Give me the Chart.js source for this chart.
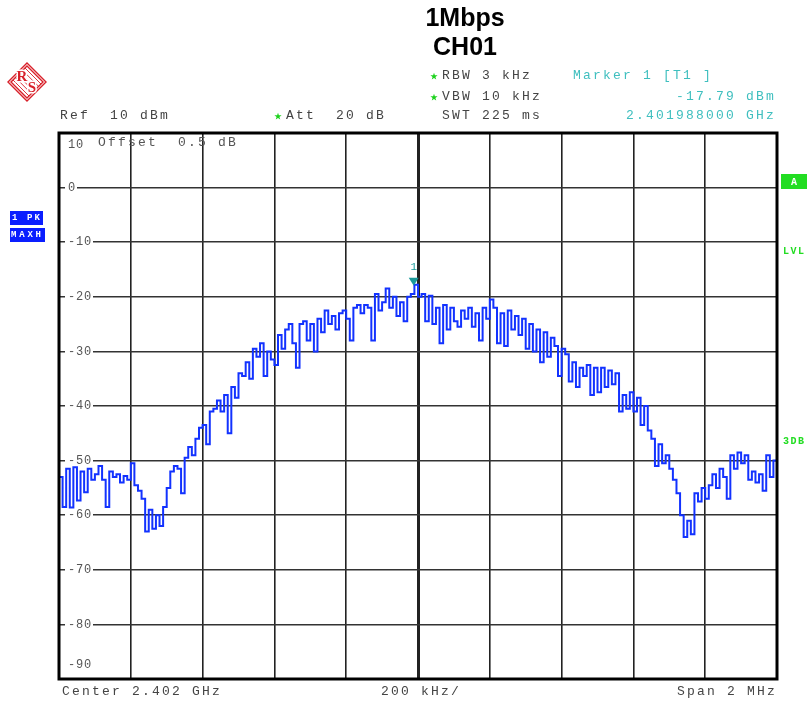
<!DOCTYPE html>
<html>
<head>
<meta charset="utf-8">
<script src="https://cdn.jsdelivr.net/npm/chart.js@4.4.1/dist/chart.umd.min.js"></script>
<style>
  body { margin: 0; background: #fff; }
  #wrap { width: 807px; height: 704px; }
</style>
</head>
<body>
<div id="wrap"><canvas id="myChart" width="807" height="704"></canvas></div>
<script>
// sweep: 2.401 .. 2.403 GHz, offsets in kHz from centre
const sweepStartKHz = -1000;
const sweepStepKHz = 10;
const levelDbm = [
  -53, -58.5, -51.5, -58.6, -51.2, -57.3, -52, -55.8, -51.5, -53.5, -52.5,
  -51, -53.5, -58.5, -52, -53, -52.5, -54, -52.8, -53.5, -50.5,
  -54.5, -55.5, -57, -63, -59, -62.5, -60, -62, -58.5, -55,
  -52, -51, -51.5, -56, -49.5, -47.5, -49, -46, -44, -43.5,
  -47, -41, -40.5, -39, -41, -38, -45, -36.5, -38.5, -34,
  -34.5, -32, -35, -29.5, -31, -28.5, -34.5, -30, -31.5, -32.5,
  -27, -29.5, -26, -25, -28.5, -33, -25, -24.5, -28, -25,
  -30, -24, -26.5, -22.5, -25, -23.5, -26, -23, -22.5, -24,
  -28, -22, -21.5, -23, -21.5, -22, -28, -19.5, -22.5, -21,
  -18.5, -22, -20, -23.5, -21, -24.5, -20, -19.5, -17.8, -20,
  -19.5, -24.5, -19.8, -25, -22, -28.5, -21.5, -26, -22, -24.5,
  -25.5, -22.5, -24, -22, -25.5, -23, -28, -22, -24, -20.5,
  -22, -28.5, -23, -29, -22.5, -26, -23.5, -27, -24, -29.5,
  -25, -30, -26, -32, -26.5, -31, -27.5, -29, -34.5, -29.5,
  -30.5, -35.5, -32, -36.5, -33, -34.5, -32.5, -38, -33, -37.5,
  -33, -36.5, -33.5, -36, -34, -41, -38, -40.5, -37.5, -41,
  -38.5, -43.5, -40, -44.5, -46, -51, -47, -50.5, -49, -51.5,
  -53.5, -56, -60, -64, -61, -63.5, -56, -57.5, -55, -57,
  -54.5, -52.5, -55, -51.5, -53, -57, -49, -51.5, -48.5, -50.5,
  -49, -53.5, -52, -54, -52.5, -55.5, -49, -53, -50, -54
];
const yTicks = [10, 0, -10, -20, -30, -40, -50, -60, -70, -80, -90];
const markerKHz = -12;
const markerDbm = -17.79;

const headerLeft = [
  ['Ref  10 dBm', 60, 116, false],
  ['Att  20 dB', 286, 116, true]
];
const headerMid = [
  ['RBW 3 kHz', 442, 76, true],
  ['VBW 10 kHz', 442, 97, true],
  ['SWT 225 ms', 442, 116, false]
];
const markerText = ['Marker 1 [T1 ]', '-17.79 dBm', '2.401988000 GHz'];
const footer = ['Center 2.402 GHz', '200 kHz/', 'Span 2 MHz'];

const points = levelDbm.map((v, i) => ({ x: sweepStartKHz + i * sweepStepKHz, y: v }));

const MONO = 'Liberation Mono, DejaVu Sans Mono, monospace';

// draws text char by char on a fixed pitch, like the analyser font
function monoText(ctx, str, x, y, pitch) {
  for (let i = 0; i < str.length; i++) {
    ctx.fillText(str[i], x + i * pitch, y);
  }
}
// little green star in front of manually set values
function star(ctx, x, y) {
  ctx.save();
  ctx.fillStyle = '#1ed21e';
  ctx.beginPath();
  for (let k = 0; k < 10; k++) {
    const r = k % 2 ? 1.5 : 3.8;
    const a = -Math.PI / 2 + k * Math.PI / 5;
    ctx.lineTo(x + r * Math.cos(a), y + 0.5 + r * Math.sin(a));
  }
  ctx.closePath();
  ctx.fill();
  ctx.restore();
}

const overlay = {
  id: 'overlay',
  beforeDatasetsDraw(chart) {
    const ctx = chart.ctx;
    const ys = chart.scales.y;
    const left = chart.chartArea.left;
    ctx.save();
    ctx.font = '12px ' + MONO;
    ctx.textBaseline = 'middle';
    yTicks.forEach(v => {
      let py = ys.getPixelForValue(v);
      const txt = String(v);
      const w = txt.length * 8;
      if (v === 10) py += 12;
      else if (v === -90) py -= 14;
      else {
        ctx.fillStyle = '#fff';
        ctx.fillRect(left + 6, py - 5, w + 4, 10);
      }
      ctx.fillStyle = '#555';
      monoText(ctx, txt, left + 9, py, 8);
    });
    ctx.fillStyle = '#555';
    ctx.font = '13px ' + MONO;
    monoText(ctx, 'Offset  0.5 dB', 98, 143, 10);
    ctx.restore();
  },
  afterDraw(chart) {
    const ctx = chart.ctx;
    const a = chart.chartArea;
    const xs = chart.scales.x, ys = chart.scales.y;
    ctx.save();
    // frame
    ctx.strokeStyle = '#000';
    ctx.lineWidth = 3;
    ctx.strokeRect(a.left, a.top, a.right - a.left, a.bottom - a.top);

    // marker 1
    const mx = xs.getPixelForValue(markerKHz);
    const my = ys.getPixelForValue(markerDbm);
    ctx.fillStyle = '#1a9a9a';
    ctx.beginPath();
    ctx.moveTo(mx - 5, my - 7);
    ctx.lineTo(mx + 5, my - 7);
    ctx.lineTo(mx, my + 1);
    ctx.closePath();
    ctx.fill();
    ctx.font = '11px ' + MONO;
    ctx.textAlign = 'center';
    ctx.textBaseline = 'middle';
    ctx.fillText('1', mx, my - 18);

    // title
    ctx.fillStyle = '#000';
    ctx.font = 'bold 25px Liberation Sans, Arial, sans-serif';
    ctx.fillText('1Mbps', 465, 19);
    ctx.fillText('CH01', 465, 48);

    // header fields
    ctx.textAlign = 'left';
    headerLeft.concat(headerMid).forEach(h => {
      if (h[3]) star(ctx, h[1] - 8, h[2]);
      ctx.fillStyle = '#444';
      ctx.font = '13px ' + MONO;
      monoText(ctx, h[0], h[1], h[2], 10);
    });
    ctx.fillStyle = '#3fbfbf';
    monoText(ctx, markerText[0], 573, 76, 10);
    monoText(ctx, markerText[1], 774 - markerText[1].length * 10 + 2, 97, 10);
    monoText(ctx, markerText[2], 774 - markerText[2].length * 10 + 2, 116, 10);

    // footer
    ctx.fillStyle = '#444';
    monoText(ctx, footer[0], 62, 692, 10);
    monoText(ctx, footer[1], 381, 692, 10);
    monoText(ctx, footer[2], 677, 692, 10);

    // left trace badges
    ctx.fillStyle = '#0a1eff';
    ctx.fillRect(10, 211, 33, 14);
    ctx.fillRect(10, 228, 35, 14);
    ctx.fillStyle = '#fff';
    ctx.font = 'bold 9px ' + MONO;
    monoText(ctx, '1 PK', 12, 218, 7.5);
    monoText(ctx, 'MAXH', 11, 235, 8.2);

    // right side flags
    ctx.fillStyle = '#22dd22';
    ctx.fillRect(781, 174, 26, 15);
    ctx.fillStyle = '#fff';
    ctx.font = 'bold 10px ' + MONO;
    ctx.fillText('A', 791, 182);
    ctx.fillStyle = '#22dd22';
    monoText(ctx, 'LVL', 783, 251, 7.5);
    monoText(ctx, '3DB', 783, 441, 7.5);

    // R&S logo
    ctx.translate(27, 82);
    ctx.strokeStyle = '#d8202a';
    ctx.lineWidth = 1.4;
    ctx.beginPath();
    ctx.moveTo(0, -19); ctx.lineTo(19, 0); ctx.lineTo(0, 19); ctx.lineTo(-19, 0); ctx.closePath();
    ctx.stroke();
    ctx.beginPath();
    ctx.moveTo(0, -16); ctx.lineTo(16, 0); ctx.lineTo(0, 16); ctx.lineTo(-16, 0); ctx.closePath();
    ctx.stroke();
    ctx.lineWidth = 0.9;
    for (let k = -6; k <= 6; k += 2.4) {
      ctx.beginPath();
      ctx.moveTo(-8 + k, -8 - k);
      ctx.lineTo(8 + k, 8 - k);
      ctx.stroke();
    }
    ctx.font = 'bold 15px Liberation Serif, serif';
    ctx.textAlign = 'center';
    ctx.lineWidth = 3;
    ctx.strokeStyle = '#fff';
    ctx.strokeText('R', -5, -5);
    ctx.strokeText('S', 5, 6);
    ctx.fillStyle = '#d8202a';
    ctx.fillText('R', -5, -5);
    ctx.fillText('S', 5, 6);
    ctx.restore();
  }
};

const config = {
  type: 'line',
  data: {
    datasets: [{
      data: points,
      borderColor: '#1232ff',
      borderWidth: 2,
      pointRadius: 0,
      stepped: true,
      fill: false
    }]
  },
  options: {
    responsive: false,
    animation: false,
    devicePixelRatio: 1,
    layout: { padding: { left: 59, top: 133, right: 30, bottom: 25 } },
    plugins: { legend: { display: false }, tooltip: { enabled: false } },
    scales: {
      x: {
        type: 'linear', min: -1000, max: 1000,
        ticks: { display: false, stepSize: 200 },
        border: { display: false },
        grid: {
          drawTicks: false,
          color: '#222',
          lineWidth: c => (c.tick && c.tick.value === 0 ? 3 : 1.6)
        }
      },
      y: {
        min: -90, max: 10,
        ticks: { display: false, stepSize: 10 },
        border: { display: false },
        grid: { drawTicks: false, color: '#333', lineWidth: 1.6 }
      }
    }
  },
  plugins: [overlay]
};

var ctx = document.getElementById('myChart');
var myChart = new Chart(ctx, config);
</script>
</body>
</html>
